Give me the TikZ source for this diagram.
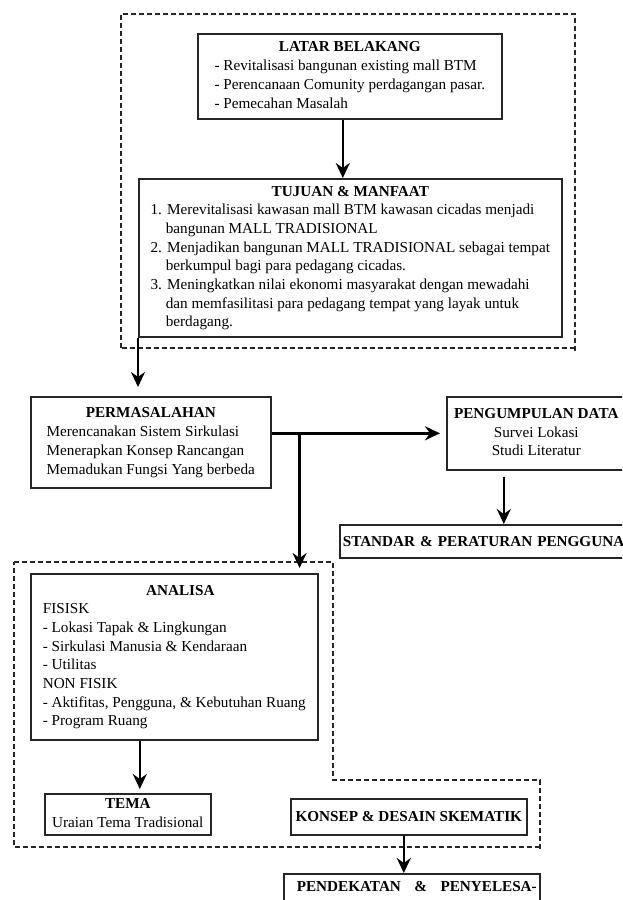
\documentclass[tikz,border=0pt]{standalone}
\usepackage{fontspec}
\setmainfont{Liberation Serif}
\usetikzlibrary{arrows.meta}
\tikzset{
  box/.style={draw=black!85, line width=1.6pt, rectangle, inner sep=0pt, anchor=north west,
    font=\fontsize{15.2}{18.7}\selectfont, align=center},
  grp/.style={draw=black!85, line width=1.2pt, dash pattern=on 5pt off 3pt},
  arr/.style={draw=black, line width=2.4pt, -{Stealth[length=15pt,width=14pt,inset=5pt]}}
}
\begin{document}
\begin{tikzpicture}[x=1pt,y=-1pt]
\fill[white] (0,0) rectangle (622,900);
\path[clip, use as bounding box] (0,0) rectangle (622,900);

% dashed groups
\draw[grp] (121,348) -- (121,14) -- (575,14) -- (575,353);
\draw[grp] (575,348) -- (121,348);
\draw[grp] (14,562) -- (333,562) -- (333,780) -- (540,780) -- (540,850);
\draw[grp] (540,847) -- (14,847) -- (14,562);

% boxes
\node[box, minimum width=304pt, minimum height=85pt] (latar) at (197,33)
 {\begin{tabular}{@{}l@{}}\multicolumn{1}{@{}c@{}}{\bfseries LATAR BELAKANG}\\
 - Revitalisasi bangunan existing mall BTM\\
 - Perencanaan Comunity perdagangan pasar.\\
 - Pemecahan Masalah\end{tabular}};

\node[box, minimum width=423pt, minimum height=158pt] (tujuan) at (138,178)
 {\begin{tabular}{@{}l@{}}\multicolumn{1}{@{}c@{}}{\bfseries TUJUAN \& MANFAAT}\\
 1. Merevitalisasi kawasan mall BTM kawasan cicadas menjadi\\
 \hphantom{1.}\ bangunan MALL TRADISIONAL\\
 2. Menjadikan bangunan MALL TRADISIONAL sebagai tempat\\
 \hphantom{2.}\ berkumpul bagi para pedagang cicadas.\\
 3. Meningkatkan nilai ekonomi masyarakat dengan mewadahi\\
 \hphantom{3.}\ dan memfasilitasi para pedagang tempat yang layak untuk\\
 \hphantom{3.}\ berdagang.\end{tabular}};

\node[box, minimum width=240pt, minimum height=91pt] (perm) at (30,396)
 {\begin{tabular}{@{}l@{}}\multicolumn{1}{@{}c@{}}{\bfseries PERMASALAHAN}\\
 Merencanakan Sistem Sirkulasi\\
 Menerapkan Konsep Rancangan\\
 Memadukan Fungsi Yang berbeda\end{tabular}};

\node[box, minimum width=179pt, minimum height=73pt] (peng) at (446,396)
 {\begin{tabular}{@{}c@{}}{\bfseries PENGUMPULAN DATA}\\
 Survei Lokasi\\
 Studi Literatur\end{tabular}};

\node[box, text width=294pt, inner xsep=3pt, minimum height=33pt, align=left] (standar) at (339,524)
 {\bfseries STANDAR \& PERATURAN PENGGUNA};

\node[box, minimum width=287pt, minimum height=166pt] (analisa) at (30,573)
 {\begin{tabular}{@{}l@{}}\multicolumn{1}{@{}c@{}}{\bfseries\hspace{12pt}ANALISA}\\
 FISISK\\
 - Lokasi Tapak \& Lingkungan\\
 - Sirkulasi Manusia \& Kendaraan\\
 - Utilitas\\
 NON FISIK\\
 - Aktifitas, Pengguna, \& Kebutuhan Ruang\\
 - Program Ruang\end{tabular}};

\node[box, minimum width=166pt, minimum height=41pt] (tema) at (44,793)
 {\begin{tabular}{@{}c@{}}{\bfseries TEMA}\\ Uraian Tema Tradisional\end{tabular}};

\node[box, minimum width=236pt, minimum height=36pt] (konsep) at (290,798)
 {\bfseries KONSEP \& DESAIN SKEMATIK};

\node[box, text height=10pt, text depth=20pt, inner ysep=8pt] (pend) at (283,873)
 {\hspace{13pt}\makebox[240pt][s]{\bfseries PENDEKATAN \& PENYELESA-}\hspace{3pt}};

% connectors
\draw[arr] ([xshift=-7pt]latar.south) -- ([xshift=-7pt]latar.south |- tujuan.north);
\draw[arr, shorten >=9pt] (tujuan.south west) -- (tujuan.south west |- perm.north);
\draw[arr, shorten >=6pt] (perm.east |- peng.west) -- (peng.west);
\coordinate (br) at ([xshift=28pt]perm.east |- peng.west);
\draw[arr, shorten >=5pt] (br) -- (br |- analisa.north);
\draw[arr, shorten <=6pt] ([xshift=-32.5pt]peng.south) -- ([xshift=-32.5pt]peng.south |- standar.north);
\draw[arr, shorten >=4pt] ([xshift=12pt]tema.north |- analisa.south) -- ([xshift=12pt]tema.north);
\draw[arr] ([xshift=-5pt]konsep.south) -- ([xshift=-5pt]konsep.south |- pend.north);
\end{tikzpicture}
\end{document}
